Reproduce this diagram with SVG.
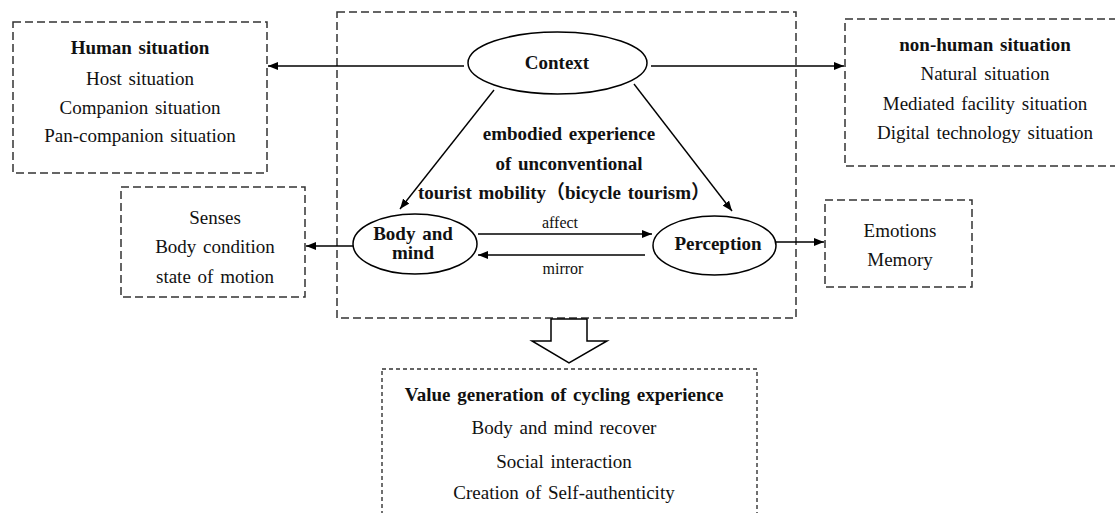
<svg xmlns="http://www.w3.org/2000/svg" width="1115" height="513" viewBox="0 0 1115 513">
<defs>
<marker id="ah" markerUnits="userSpaceOnUse" markerWidth="10" markerHeight="8" refX="10" refY="4" orient="auto">
<path d="M0,0 L10,4 L0,8 z" fill="#000"/>
</marker>
<style>
.box{fill:none;stroke:#333;stroke-width:1.5;stroke-dasharray:8 4}
.box2{fill:none;stroke:#333;stroke-width:1.4;stroke-dasharray:4 3}
.ell{fill:#fff;stroke:#000;stroke-width:1.5}
.t{font-size:19px;fill:#111;text-anchor:middle;word-spacing:2px}
.b{font-weight:bold}
.s{font-size:16px}
.c{stroke:#000;stroke-width:1.4;fill:none;marker-end:url(#ah)}
</style>
</defs>
<rect width="1115" height="513" fill="#fff"/>

<g font-family="Liberation Serif, Times New Roman, Noto Sans CJK SC, serif">
<g id="human">
<rect class="box" x="13" y="22" width="254" height="151"/>
<text class="t b" x="140" y="54">Human situation</text>
<text class="t" x="140" y="85">Host situation</text>
<text class="t" x="140" y="114">Companion situation</text>
<text class="t" x="140" y="142">Pan-companion situation</text>
</g>

<g id="nonhuman">
<rect class="box" x="845" y="19" width="285" height="147"/>
<text class="t b" x="985" y="51">non-human situation</text>
<text class="t" x="985" y="80">Natural situation</text>
<text class="t" x="985" y="110">Mediated facility situation</text>
<text class="t" x="985" y="139">Digital technology situation</text>
</g>

<g id="embodied">
<rect class="box" x="337" y="12" width="459" height="306"/>
<text class="t b" x="569" y="140">embodied experience</text>
<text class="t b" x="569" y="170">of unconventional</text>
<text class="t b" x="564" y="199">tourist mobility（bicycle tourism）</text>
</g>

<g id="context">
<ellipse class="ell" cx="557.5" cy="63" rx="89.5" ry="31"/>
<text class="t b" x="557" y="69">Context</text>
</g>

<g id="bodymind">
<ellipse class="ell" cx="415" cy="244" rx="62" ry="30"/>
<text class="t b" x="413" y="240" font-size="17">Body and</text>
<text class="t b" x="413" y="259" font-size="17">mind</text>
</g>

<g id="perception">
<ellipse class="ell" cx="714.5" cy="245.5" rx="61.5" ry="29.5"/>
<text class="t b" x="718" y="250">Perception</text>
</g>

<g id="senses">
<rect class="box" x="121" y="187" width="184" height="110"/>
<text class="t" x="215" y="224">Senses</text>
<text class="t" x="215" y="253">Body condition</text>
<text class="t" x="215" y="283">state of motion</text>
</g>

<g id="emotions">
<rect class="box" x="825" y="200" width="147" height="87"/>
<text class="t" x="900" y="237">Emotions</text>
<text class="t" x="900" y="266">Memory</text>
</g>

<g id="value">
<rect class="box2" x="382" y="369" width="375" height="160"/>
<text class="t b" x="564" y="401">Value generation of cycling experience</text>
<text class="t" x="564" y="434">Body and mind  recover</text>
<text class="t" x="564" y="468">Social interaction</text>
<text class="t" x="564" y="499">Creation of Self-authenticity</text>
</g>

<g id="connectors">
<line class="c" x1="464" y1="66" x2="268" y2="66"/>
<line class="c" x1="651" y1="66" x2="844" y2="66"/>
<line class="c" x1="494" y1="90" x2="400" y2="209"/>
<line class="c" x1="634" y1="84" x2="732" y2="211"/>
<line class="c" x1="353" y1="246" x2="306" y2="246"/>
<line class="c" x1="776" y1="242" x2="824" y2="242"/>
<line class="c" x1="478" y1="234" x2="652" y2="234"/>
<line class="c" x1="645" y1="255" x2="478" y2="255"/>
<text class="t s" x="560" y="228">affect</text>
<text class="t s" x="563" y="274">mirror</text>
<path d="M551,319 L587,319 L587,341 L607,341 L569,363 L532,341 L551,341 Z" fill="#fff" stroke="#000" stroke-width="1.5"/>
</g>
</g>
</svg>
